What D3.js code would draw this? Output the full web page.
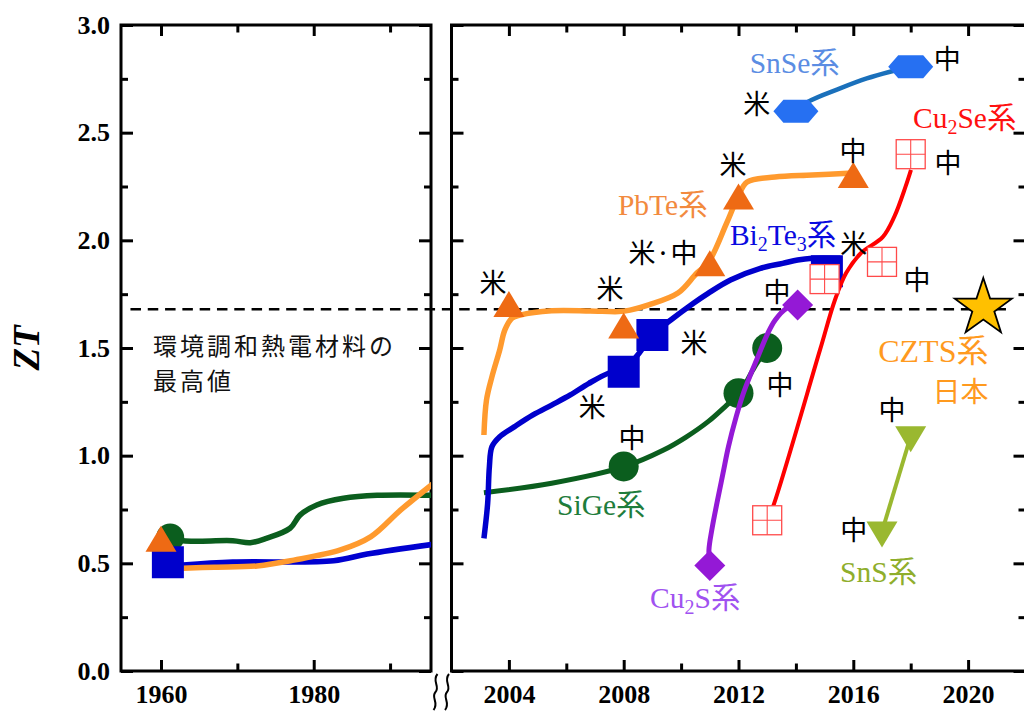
<!DOCTYPE html>
<html>
<head>
<meta charset="utf-8">
<script src="https://cdn.jsdelivr.net/npm/d3@7"></script>
<style>
  html, body { margin: 0; padding: 0; background: #fff; }
  svg { display: block; }
</style>
</head>
<body>
<svg id="chart" width="1024" height="711"></svg>
<script>
// ---------- data: ZT record values by year ----------
// early era (1955-1995)
const earlySiGe   = [[1961.2,0.62],[1962.9,0.605],[1969.4,0.605],[1971.7,0.596],[1973.8,0.616],[1976.9,0.663],[1978.2,0.724],[1980.4,0.771],[1983.9,0.802],[1988.3,0.816],[1996,0.816]];
const earlyPbTe   = [[1962.9,0.477],[1967,0.482],[1972.6,0.488],[1977.4,0.515],[1983.5,0.562],[1987.5,0.624],[1991.4,0.748],[1996,0.88]];
const earlyBi2Te3 = [[1962.9,0.492],[1969.4,0.506],[1982.6,0.512],[1987,0.543],[1996,0.59]];
const earlyMarkSiGe   = [[1961.2,0.62]];
const earlyMarkBi2Te3 = [[1960.9,0.505]];
const earlyMarkPbTe   = [[1960.0,0.60]];

// recent era (2002-2022)
const pbteLine = [[2003.13,1.096],[2003.22,1.259],[2003.41,1.367],[2003.68,1.491],[2003.86,1.584],[2004.11,1.639],[2004.39,1.653],[2005.49,1.673],[2006.83,1.672],[2007.83,1.669],[2008.22,1.676],[2008.87,1.700],[2009.89,1.755],[2010.55,1.848],[2010.94,1.895],[2011.59,2.081],[2011.98,2.201],[2012.30,2.271],[2013.27,2.294],[2014.57,2.303],[2015.99,2.313]];
const pbteMarks = [[2004,1.69],[2008,1.59],[2011,1.88],[2012,2.19],[2016,2.29]];

const bi2te3Line = [[2003.13,0.616],[2003.26,0.779],[2003.32,0.949],[2003.41,1.042],[2003.68,1.088],[2004.20,1.135],[2004.84,1.189],[2005.49,1.235],[2006.14,1.282],[2006.79,1.336],[2007.51,1.385],[2008.0,1.40],[2008.5,1.47],[2009.0,1.56],[2009.64,1.630],[2010.43,1.708],[2010.94,1.754],[2011.72,1.816],[2012.76,1.870],[2013.54,1.893],[2014.06,1.909],[2014.57,1.917],[2015.55,1.917]];
const bi2te3Marks = [[2008,1.39],[2009,1.56],[2015.08,1.857]];

const sigeLine = [[2003.13,0.828],[2005.49,0.872],[2008.02,0.949],[2009.39,1.026],[2010.16,1.085],[2010.94,1.158],[2011.59,1.235],[2012.05,1.292],[2012.50,1.398],[2012.76,1.452],[2013.02,1.49]];
const sigeMarks = [[2008,0.95],[2012,1.29],[2013,1.50]];

const cu2sLine = [[2011.0,0.488],[2010.97,0.562],[2011.07,0.655],[2011.27,0.794],[2011.46,0.918],[2011.65,1.042],[2011.92,1.181],[2012.17,1.290],[2012.44,1.383],[2012.63,1.444],[2013.02,1.568],[2013.28,1.630],[2013.67,1.684],[2014.06,1.70]];
const cu2sMarks = [[2011,0.49],[2014.06,1.70]];

const cu2seLine = [[2013.0,0.70],[2013.21,0.766],[2014.84,1.491],[2015.36,1.723],[2015.75,1.848],[2016.27,1.941],[2017.03,2.016],[2017.43,2.110],[2017.82,2.249],[2018.01,2.327]];
const cu2seMarks = [[2013,0.70],[2015,1.82],[2017,1.90],[2018,2.40]];

const snseLine = [[2014.0,2.60],[2014.43,2.644],[2015.54,2.706],[2016.47,2.752],[2017.28,2.783],[2018.0,2.806]];
const snseMarks = [[2014,2.60],[2018,2.806]];

const snsLine  = [[2018,1.09],[2017,0.648]];
const snsMarks = [[2018,1.09],[2017,0.648]];

const cztsMark = [[2020.53,1.686]];

const zTarget = 1.68;   // best value among environment-friendly materials

// tick values
const yMajor = [0, 0.5, 1.0, 1.5, 2.0, 2.5, 3.0];
const yMinor = [0.25, 0.75, 1.25, 1.75, 2.25, 2.75];
const xEarlyMajor = [1960, 1980];
const xEarlyMinor = [1970, 1990];
const xRecentMajor = [2004, 2008, 2012, 2016, 2020];
const xRecentMinor = [2006, 2010, 2014, 2018, 2022];

// country of each record
const countryNotes = [
  ["米", 2003.45, 1.807], ["米", 2007.52, 1.783], ["米·中", 2009.37, 1.946],
  ["米", 2011.81, 2.359], ["中", 2015.99, 2.420], ["米", 2016.02, 1.988],
  ["米", 2010.45, 1.528], ["米", 2006.90, 1.235], ["中", 2008.29, 1.087],
  ["中", 2013.45, 1.337], ["中", 2013.34, 1.769], ["中", 2018.22, 1.825],
  ["中", 2019.30, 2.364], ["米", 2012.64, 2.638], ["中", 2019.27, 2.851],
  ["中", 2017.35, 1.217], ["中", 2016.02, 0.664]
];

// material system names: [parts, year, ZT, colour]; parts are [text, isSubscript]
const systemNames = [
  [[["SnSe",0],["系",0]], 2012.39, 2.777, "#5b8de3"],
  [[["Cu",0],["2",1],["Se",0],["系",0]], 2018.08, 2.522, "#ff1010"],
  [[["PbTe",0],["系",0]], 2007.80, 2.118, "#f28a3e"],
  [[["Bi",0],["2",1],["Te",0],["3",1],["系",0]], 2011.70, 1.978, "#0a0ae0"],
  [[["SiGe",0],["系",0]], 2005.68, 0.724, "#1f7d3c"],
  [[["Cu",0],["2",1],["S",0],["系",0]], 2008.92, 0.293, "#a052f0"],
  [[["SnS",0],["系",0]], 2015.54, 0.413, "#8fae2c"]
];

// ---------- layout ----------
const svg = d3.select("#chart");
const serif = "'Liberation Serif','Times New Roman','Noto Sans CJK JP',serif";
const gothic = "'Noto Sans CJK JP','Noto Sans',sans-serif";

const y  = d3.scaleLinear().domain([0, 3]).range([671, 25]);
const xL = d3.scaleLinear().domain([1954.76, 1995.36]).range([121, 431]);
const xR = d3.scaleLinear().domain([2002, 2022]).range([451.5, 1025.5]);

const defs = svg.append("defs");
defs.append("clipPath").attr("id", "clipL").append("rect")
  .attr("x", xL.range()[0]).attr("y", y(3)).attr("width", xL.range()[1] - xL.range()[0]).attr("height", y(0) - y(3));
defs.append("clipPath").attr("id", "clipR").append("rect")
  .attr("x", xR.range()[0]).attr("y", y(3)).attr("width", xR.range()[1] - xR.range()[0]).attr("height", y(0) - y(3));

// ---------- axes ----------
function drawAxes(x, majors, minors, showYLabels) {
  const g = svg.append("g");
  const x0 = x.range()[0], x1 = x.range()[1];
  const styleAxis = sel => {
    sel.select(".domain").remove();
    sel.selectAll(".tick line").attr("stroke", "#000").attr("stroke-width", 3);
    sel.selectAll("text").attr("font-family", serif).attr("font-weight", "bold")
      .attr("font-size", 26).attr("fill", "#000");
  };
  // left / right ticks (inward)
  g.append("g").attr("transform", `translate(${x0},0)`)
    .call(d3.axisLeft(y).tickValues(yMajor).tickSize(-12).tickPadding(11)
      .tickFormat(showYLabels ? d3.format(".1f") : ""))
    .call(styleAxis);
  g.append("g").attr("transform", `translate(${x0},0)`)
    .call(d3.axisLeft(y).tickValues(yMinor).tickSize(-7).tickFormat(""))
    .call(styleAxis);
  g.append("g").attr("transform", `translate(${x1},0)`)
    .call(d3.axisRight(y).tickValues(yMajor).tickSize(-12).tickFormat(""))
    .call(styleAxis);
  g.append("g").attr("transform", `translate(${x1},0)`)
    .call(d3.axisRight(y).tickValues(yMinor).tickSize(-7).tickFormat(""))
    .call(styleAxis);
  // bottom / top ticks (inward)
  const xm = majors.filter(v => x(v) <= x1 + 0.1), xn = minors.filter(v => x(v) <= x1 + 0.1);
  g.append("g").attr("transform", `translate(0,${y(0)})`)
    .call(d3.axisBottom(x).tickValues(xm).tickSize(-11).tickPadding(14).tickFormat(d3.format("d")))
    .call(styleAxis);
  g.append("g").attr("transform", `translate(0,${y(0)})`)
    .call(d3.axisBottom(x).tickValues(xn).tickSize(-7.5).tickFormat(""))
    .call(styleAxis);
  g.append("g").attr("transform", `translate(0,${y(3)})`)
    .call(d3.axisTop(x).tickValues(xm).tickSize(-11).tickFormat(""))
    .call(styleAxis);
  g.append("g").attr("transform", `translate(0,${y(3)})`)
    .call(d3.axisTop(x).tickValues(xn).tickSize(-7.5).tickFormat(""))
    .call(styleAxis);
  g.selectAll(".tick text").filter(function(){ return this.textContent === ""; }).remove();
  // frame
  g.append("rect").attr("x", x0).attr("y", y(3)).attr("width", x1 - x0).attr("height", y(0) - y(3))
    .attr("fill", "none").attr("stroke", "#000").attr("stroke-width", 3);
}
drawAxes(xL, xEarlyMajor, xEarlyMinor, true);
drawAxes(xR, xRecentMajor, xRecentMinor, false);

// y title
svg.append("text")
  .attr("transform", `translate(39,${y(1.5) + 0}) rotate(-90)`)
  .attr("text-anchor", "middle")
  .attr("font-family", serif).attr("font-weight", "bold").attr("font-style", "italic")
  .attr("font-size", 37).text("ZT");

// axis break mark
const brk = svg.append("g").attr("fill", "none").attr("stroke", "#000").attr("stroke-width", 2);
[435.5, 447].forEach(bx => {
  const yb0 = y(0) + 3, h = 36;
  brk.append("path").attr("d",
    `M${bx + 2},${yb0} C${bx - 4},${yb0 + h * 0.2} ${bx + 5},${yb0 + h * 0.35} ${bx},${yb0 + h * 0.5}` +
    ` C${bx - 5},${yb0 + h * 0.65} ${bx + 4},${yb0 + h * 0.8} ${bx - 2},${yb0 + h}`);
});

// ---------- dashed reference line ----------
svg.append("line")
  .attr("x1", xL(1956.0)).attr("x2", xR(2021.45))
  .attr("y1", y(zTarget)).attr("y2", y(zTarget))
  .attr("stroke", "#000").attr("stroke-width", 2.6).attr("stroke-dasharray", "10.5,6.8");

// ---------- series ----------
const curve = d3.curveCatmullRom.alpha(0.5);
function drawLine(layer, x, data, color, width) {
  layer.append("path").datum(data)
    .attr("d", d3.line().x(d => x(d[0])).y(d => y(d[1])).curve(curve))
    .attr("fill", "none").attr("stroke", color).attr("stroke-width", width)
    .attr("stroke-linejoin", "round").attr("stroke-linecap", "butt");
}
const shapes = {
  triangle: "M0,-16 L15.5,10 L-15.5,10 Z",
  triangleDown: "M0,16 L15.5,-10 L-15.5,-10 Z",
  square: "M-16,-16 H16 V16 H-16 Z",
  diamond: "M0,-15.5 L15.5,0 L0,15.5 L-15.5,0 Z",
  hexagon: "M-22.5,0 L-12.5,-11.5 L12.5,-11.5 L22.5,0 L12.5,11.5 L-12.5,11.5 Z"
};
function drawMarks(layer, x, data, shape, color) {
  layer.selectAll(null).data(data).enter().append("path")
    .attr("transform", d => `translate(${x(d[0])},${y(d[1])})`)
    .attr("d", shapes[shape]).attr("fill", color);
}
function drawCircles(layer, x, data, color, r) {
  layer.selectAll(null).data(data).enter().append("circle")
    .attr("cx", d => x(d[0])).attr("cy", d => y(d[1])).attr("r", r).attr("fill", color);
}
function drawGrid(layer, x, data, color) {
  const g = layer.selectAll(null).data(data).enter().append("g")
    .attr("transform", d => `translate(${x(d[0])},${y(d[1])})`);
  g.append("rect").attr("x", -14.5).attr("y", -14.5).attr("width", 29).attr("height", 29)
    .attr("fill", "#fff").attr("stroke", color).attr("stroke-width", 1.3);
  g.append("path").attr("d", "M0,-14.5 V14.5 M-14.5,0 H14.5")
    .attr("stroke", color).attr("stroke-width", 1.1).attr("fill", "none");
}

// early panel
const gL = svg.append("g").attr("clip-path", "url(#clipL)");
drawLine(gL, xL, earlySiGe, "#0b5e1e", 5.5);
drawLine(gL, xL, earlyBi2Te3, "#0000d0", 5.5);
drawLine(gL, xL, earlyPbTe, "#ff9a2e", 5.5);
const gLm = svg.append("g");
drawCircles(gLm, xL, earlyMarkSiGe, "#0b5e1e", 14);
drawMarks(gLm, xL, earlyMarkBi2Te3, "square", "#0000cc");
drawMarks(gLm, xL, earlyMarkPbTe, "triangle", "#ee6a14");

// recent panel
const gR = svg.append("g").attr("clip-path", "url(#clipR)");
drawLine(gR, xR, sigeLine, "#0b5e1e", 5);
drawCircles(gR, xR, sigeMarks, "#0b5e1e", 15);
drawLine(gR, xR, cu2sLine, "#9419d6", 5);
drawMarks(gR, xR, cu2sMarks, "diamond", "#9419d6");
drawLine(gR, xR, bi2te3Line, "#0000cc", 5.5);
drawMarks(gR, xR, bi2te3Marks, "square", "#0000cc");
drawLine(gR, xR, pbteLine, "#ff9a2e", 5.5);
drawMarks(gR, xR, pbteMarks, "triangle", "#ee6a14");
drawLine(gR, xR, cu2seLine, "#ff0000", 4);
drawGrid(gR, xR, cu2seMarks, "#ff4a4a");
drawLine(gR, xR, snseLine, "#1a70bb", 4.5);
drawMarks(gR, xR, snseMarks, "hexagon", "#2670f2");
drawLine(gR, xR, snsLine, "#9ab830", 4);
drawMarks(gR, xR, snsMarks, "triangleDown", "#9ab830");

// CZTS star
const starPts = d3.range(10).map(i => {
  const a = -Math.PI / 2 + i * Math.PI / 5, r = i % 2 ? 11.6 : 30;
  return [r * Math.cos(a), r * Math.sin(a)];
});
svg.append("g").selectAll(null).data(cztsMark).enter().append("path")
  .attr("transform", d => `translate(${xR(d[0])},${y(d[1])})`)
  .attr("d", "M" + starPts.map(p => p.join(",")).join("L") + "Z")
  .attr("fill", "#ffc000").attr("stroke", "#000").attr("stroke-width", 1.8).attr("stroke-linejoin", "miter");

// ---------- labels ----------
const lab = svg.append("g");
countryNotes.forEach(([t, yr, z]) => {
  lab.append("text").attr("x", xR(yr)).attr("y", y(z))
    .attr("text-anchor", "middle").attr("dominant-baseline", "central")
    .attr("font-family", gothic).attr("font-size", 27).attr("fill", "#000").text(t);
});
systemNames.forEach(([parts, yr, z, color]) => {
  const t = lab.append("text").attr("x", xR(yr)).attr("y", y(z))
    .attr("font-family", serif).attr("font-size", 29.5).attr("fill", color);
  let shifted = false;
  parts.forEach(([s, sub]) => {
    const sp = t.append("tspan").text(s);
    if (sub) { sp.attr("font-size", 20).attr("dy", 6); shifted = true; }
    else if (shifted) { sp.attr("dy", -6); shifted = false; }
  });
});
lab.append("text").attr("x", xR(2020.71)).attr("y", y(1.436)).attr("text-anchor", "end")
  .attr("font-family", serif).attr("font-size", 32).attr("fill", "#ff9a1e").text("CZTS系");
lab.append("text").attr("x", xR(2020.71)).attr("y", y(1.250)).attr("text-anchor", "end")
  .attr("font-family", gothic).attr("font-size", 28).attr("fill", "#ff9a1e").text("日本");

lab.append("text").attr("x", xL(1958.95)).attr("y", y(1.4675))
  .attr("font-family", gothic).attr("font-size", 24).attr("letter-spacing", 3).attr("fill", "#111").text("環境調和熱電材料の");
lab.append("text").attr("x", xL(1958.95)).attr("y", y(1.305))
  .attr("font-family", gothic).attr("font-size", 24).attr("letter-spacing", 3).attr("fill", "#111").text("最高値");
</script>
</body>
</html>
